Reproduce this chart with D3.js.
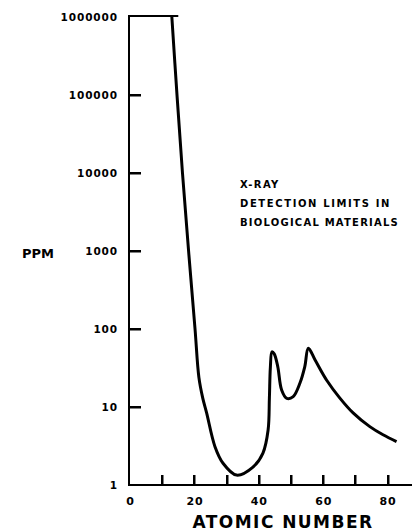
<!DOCTYPE html>
<html>
<head>
<meta charset="utf-8">
<script src="https://cdn.jsdelivr.net/npm/d3@7"></script>
<style>
  body { margin: 0; background: #fff; }
  svg { display: block; }
  text { font-family: 'DejaVu Sans', sans-serif; font-weight: bold; fill: #000; }
</style>
</head>
<body>
<div id="chart"></div>
<script>
// detection limit curve
const atomicNumber = [13.0, 14.6, 16.3, 18.2, 20.2, 21.4, 22.6, 23.8, 26.4, 28.9, 33.1, 38.2, 41.3, 42.9, 43.3, 43.6, 44.1,
  44.8, 45.9, 47.1, 48.7, 50.7, 52.8, 54.3, 55.4, 57.5, 61.1, 65.2, 69.3, 74.5, 78.6, 82.8];
const ppm = [1000000, 100000, 10000, 1000, 100, 24, 13, 8.4, 3.1, 1.9, 1.34, 1.7, 2.57, 5.07, 13, 32, 51,
  48, 33, 16.5, 12.9, 13.6, 20.3, 33, 56.6, 40, 22, 13, 8.4, 5.6, 4.4, 3.6];

const xTicks = [0, 10, 20, 30, 40, 50, 60, 70, 80];
const xTickLabels = ['0', '', '20', '', '40', '', '60', '', '80'];
const yTicks = [1, 10, 100, 1000, 10000, 100000, 1000000];

const note = ['X-RAY', 'DETECTION LIMITS IN', 'BIOLOGICAL MATERIALS'];

const cfg = {
  width: 415,
  height: 532,
  left: 130,
  right: 412,
  top: 17,
  bottom: 485,
};

const svg = d3.select('#chart').append('svg')
  .attr('width', cfg.width)
  .attr('height', cfg.height);

const x = d3.scaleLinear().domain([0, 87.6]).range([cfg.left, cfg.right]);
const y = d3.scaleLog().domain([1, 1000000]).range([cfg.bottom, cfg.top]);

// spread letters out so a line of text fills the wanted width
function fit(sel, w) {
  sel.each(function () {
    const n = this.getNumberOfChars();
    const natural = this.getComputedTextLength();
    d3.select(this).style('letter-spacing', `${(w - natural) / n}px`);
  });
}

// frame: left side, bottom, short top edge
svg.append('path')
  .attr('d', `M${x(15)},${cfg.top - 1}H${cfg.left - 1}V${cfg.bottom}H${cfg.right}`)
  .attr('fill', 'none')
  .attr('stroke', '#000')
  .attr('stroke-width', 2);

// ticks as small filled bars, x ones pointing up, y ones pointing right
svg.append('g').selectAll('rect')
  .data(xTicks.slice(1))
  .join('rect')
  .attr('x', d => Math.round(x(d)) - 1)
  .attr('y', cfg.bottom - 10)
  .attr('width', 2.5)
  .attr('height', 11)
  .attr('fill', '#000');

svg.append('g').selectAll('rect')
  .data(yTicks.slice(1, -1))
  .join('rect')
  .attr('x', cfg.left - 1)
  .attr('y', d => Math.round(y(d)) - 1)
  .attr('width', 12)
  .attr('height', 2.5)
  .attr('fill', '#000');

svg.append('g').selectAll('text')
  .data(xTicks.filter((d, i) => xTickLabels[i] !== ''))
  .join('text')
  .attr('x', d => x(d) + 0.5)
  .attr('y', cfg.bottom + 20)
  .attr('text-anchor', 'middle')
  .style('font-size', '11px')
  .style('letter-spacing', '0.8px')
  .text(d => xTickLabels[xTicks.indexOf(d)]);

svg.append('g').selectAll('text')
  .data(yTicks)
  .join('text')
  .attr('x', cfg.left - 12)
  .attr('y', d => y(d) + 4)
  .attr('text-anchor', 'end')
  .style('font-size', '10.5px')
  .style('letter-spacing', '0.9px')
  .text(d => String(d));

// axis titles
svg.append('text')
  .attr('x', 283)
  .attr('y', 528)
  .attr('text-anchor', 'middle')
  .style('font-size', '17px')
  .text('ATOMIC NUMBER')
  .call(fit, 181);

svg.append('text')
  .attr('x', 54)
  .attr('y', 258)
  .attr('text-anchor', 'end')
  .style('font-size', '13px')
  .text('PPM')
  .call(fit, 32);

// note
svg.append('g').selectAll('text')
  .data(note)
  .join('text')
  .attr('x', 240)
  .attr('y', (d, i) => 188 + i * 19)
  .style('font-size', '10px')
  .text(d => d)
  .each(function (d) {
    d3.select(this).call(fit, d.length * 7.95);
  });

// the curve
const pts = atomicNumber.map((z, i) => [z, ppm[i]]);
const line = d3.line()
  .x(d => x(d[0]))
  .y(d => y(d[1]))
  .curve(d3.curveCatmullRom.alpha(0.5));

svg.append('path')
  .datum(pts)
  .attr('d', line)
  .attr('fill', 'none')
  .attr('stroke', '#000')
  .attr('stroke-width', 3)
  .attr('stroke-linejoin', 'round');
</script>
</body>
</html>
